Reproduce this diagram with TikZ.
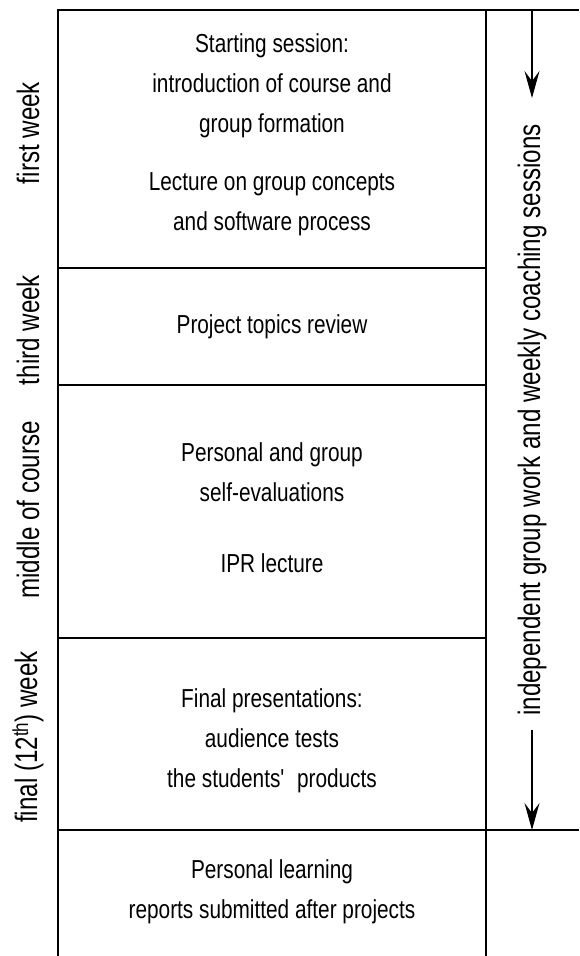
\documentclass[tikz,border=0pt]{standalone}
\usepackage{fontspec}
\setmainfont[FakeStretch=0.80]{Liberation Sans}
\newfontfamily\labfont[FakeStretch=0.78]{Liberation Sans}
\usetikzlibrary{arrows.meta}
\tikzset{
  frame/.style={draw=black, line width=1.3pt},
  body/.style={align=center, inner sep=0pt, font=\fontsize{26}{40}\selectfont},
  sidelabel/.style={rotate=90, inner sep=0pt, font=\labfont\fontsize{31}{36}\selectfont},
  flow/.style={draw=black, line width=1.1pt, -{Stealth[length=27pt,width=15pt,inset=10pt]}}
}
\begin{document}
\begin{tikzpicture}[x=1pt,y=-1pt]
\useasboundingbox (0,0) rectangle (579,956);
% frame lines
\draw[frame] (58,956) -- (58,10) -- (579,10);
\draw[frame] (486,10) -- (486,956);
\draw[frame] (58,268) -- (486,268);
\draw[frame] (58,385) -- (486,385);
\draw[frame] (58,638) -- (486,638);
\draw[frame] (58,830) -- (579,830);
% body texts
\node[body] (start) at (272,86) {Starting session:\\introduction of course and\\group formation};
\node[body] (lect) at (272,204) {Lecture on group concepts\\and software process};
\node[body] (topics) at (272,327) {Project topics review};
\node[body] (selfev) at (272,472) {Personal and group\\self-evaluations};
\node[body] (ipr) at (272,563) {IPR lecture};
\node[body] (final) at (272,741) {Final presentations:\\audience tests\\the students\textquotesingle\ \ products};
\node[body] (report) at (272,892) {Personal learning\\reports submitted after projects};
% side labels
\node[sidelabel] (w1) at (28,133) {first week};
\node[sidelabel] (w3) at (28,330) {third week};
\node[sidelabel] (wm) at (28,510) {middle of course};
\node[sidelabel] (wf) at (28,737) {final (12\textsuperscript{th}) week};
% right label and arrows
\node[sidelabel] (indep) at (532,420) {independent group work and weekly coaching sessions};
\coordinate (a1s) at (532,10);
\coordinate (a1e) at (532,98);
\coordinate (a2s) at (532,730);
\coordinate (a2e) at (532,830);
\draw[flow] (a1s) -- (a1e);
\draw[flow] (a2s) -- (a2e);
\end{tikzpicture}
\end{document}
